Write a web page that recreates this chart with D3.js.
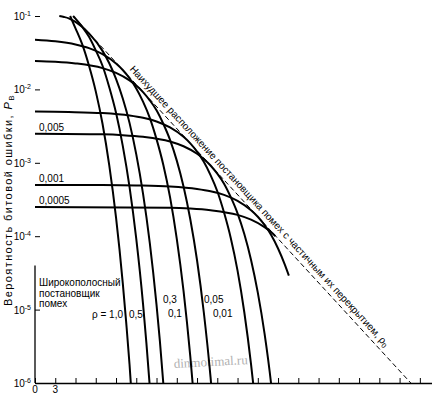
<!DOCTYPE html>
<html><head><meta charset="utf-8">
<script src="https://cdn.jsdelivr.net/npm/d3@7"></script>
<style>
body{margin:0;background:#fff}
svg{display:block;font-family:"Liberation Sans",Arial,sans-serif}
</style></head><body>
<svg id="c" width="432" height="395"></svg>
<script>
// ---- data (Eb/J0 in dB, bit error probability) ----
const rhoNames = ["1,0","0,5","0,3","0,1","0,05","0,01","0,005","0,001","0,0005"];
const curveRho1_0 = [[5.2,0.1],[6,0.068],[7,0.041],[8,0.021],[9,0.0094],[10,0.0034],[11,9.2e-4],[12,1.8e-4],[13,2.3e-5],[13.5,6.8e-6],[14,1.8e-6],[14.3,7e-7]];
const curveRho0_5 = [[5.64,0.1],[6,0.092],[7,0.071],[8,0.052],[9,0.034],[10,0.021],[11,0.0107],[12,4.8e-3],[13,1.7e-3],[14,4.7e-4],[15,9.2e-5],[16,1.2e-5],[16.5,3.5e-6],[17,9e-7]];
const curveRho0_3 = [[3.6,0.1],[4.3,0.097],[5,0.093],[6,0.083],[8,0.058],[10,0.0335],[11,0.0227],[12,0.0139],[13,7.5e-3],[14,3.5e-3],[15,1.3e-3],[16,3.8e-4],[17,8.1e-5],[18,1.16e-5],[18.5,3.7e-6],[19,1e-6],[19.3,4.3e-7]];
const curveRho0_1 = [[0,0.0476],[3,0.0453],[6,0.041],[8,0.0365],[10,0.0303],[12,0.0226],[13,0.0184],[14,0.0142],[15,0.0103],[16,6.8e-3],[17,4.1e-3],[18,2.1e-3],[19,9.4e-4],[20,3.4e-4],[21,9.2e-5],[22,1.8e-5],[23,2.3e-6],[23.5,6.8e-7]];
const curveRho0_05 = [[0,0.0244],[3,0.0238],[6,0.0226],[10,0.0195],[12,0.0168],[14,0.0133],[15,0.0113],[16,9.2e-3],[17,7.1e-3],[18,5.2e-3],[19,3.4e-3],[20,2.05e-3],[21,1.07e-3],[22,4.75e-4],[23,1.7e-4],[24,4.7e-5],[25,9.2e-6],[26,1.2e-6],[26.5,3.5e-7]];
const curveRho0_01 = [[0,4.98e-3],[5,4.92e-3],[10,4.76e-3],[14,4.41e-3],[16,4.1e-3],[18,3.65e-3],[20,3.03e-3],[22,2.26e-3],[23,1.84e-3],[24,1.42e-3],[25,1.03e-3],[26,6.8e-4],[27,4.1e-4],[28,2.1e-4],[29,9.4e-5],[30,3.4e-5],[31,9.2e-6],[32,1.8e-6],[32.5,6.9e-7]];
const curveRho0_005 = [[0,2.49e-3],[10,2.44e-3],[13,2.38e-3],[16,2.26e-3],[20,1.95e-3],[22,1.68e-3],[24,1.33e-3],[25,1.13e-3],[26,9.2e-4],[27,7.1e-4],[28,5.2e-4],[29,3.4e-4],[30,2.05e-4],[31,1.07e-4],[32,4.75e-5],[33,1.7e-5],[34,4.7e-6],[35,9.2e-7],[35.3,5e-7]];
const curveRho0_001 = [[0,5e-4],[10,4.98e-4],[15,4.92e-4],[20,4.76e-4],[24,4.41e-4],[26,4.1e-4],[28,3.65e-4],[30,3.03e-4],[32,2.26e-4],[33,1.84e-4],[34,1.42e-4],[35,1.03e-4],[36,6.8e-5],[37,4.1e-5],[37.6,2.9e-5]];
const curveRho0_0005 = [[0,2.5e-4],[20,2.44e-4],[23,2.38e-4],[26,2.26e-4],[30,1.95e-4],[32,1.68e-4],[34,1.33e-4],[35,1.13e-4],[35.6,1.0e-4]];
const worstCase = [[5.66,0.1],[55.66,1e-6]];
const yTickValues = [1e-1,1e-2,1e-3,1e-4,1e-5,1e-6];
const yTickExps = ["-1","-2","-3","-4","-5","-6"];
const xTickValues = [0,3,6,9,12,15,18,21,24,27,30,33,36,39,42,45,48,51,54,57];
const xTickLabels = ["0","3"];

const curves = [curveRho1_0,curveRho0_5,curveRho0_3,curveRho0_1,curveRho0_05,curveRho0_01,curveRho0_005,curveRho0_001,curveRho0_0005];

// ---- layout ----
const svg = d3.select("#c");
const x = d3.scaleLinear().domain([0,58.8]).range([35,432]);
const y = d3.scaleLog().domain([1e-6,1e-1]).range([383,16]);

svg.append("defs").append("clipPath").attr("id","pl")
  .append("rect").attr("x",35).attr("y",0).attr("width",400).attr("height",383);

// watermark
svg.append("text").attr("transform","translate(174,368) rotate(-3)")
  .attr("font-family","'Liberation Serif',serif").attr("font-size",13).attr("fill","#b0b0b0")
  .text("dinmotimal.ru");

// axes
const gx = svg.append("g").attr("transform","translate(0,383)")
  .call(d3.axisBottom(x).tickValues(xTickValues).tickSizeInner(-5).tickSizeOuter(0).tickFormat(""));
gx.select(".domain").attr("stroke","#000").attr("stroke-width",1.3);
gx.selectAll(".tick line").attr("stroke","#000").attr("stroke-width",1);
xTickLabels.forEach((t,i)=>{
  svg.append("text").attr("x",x(xTickValues[i])).attr("y",393).attr("text-anchor","middle")
    .attr("font-size",10).text(t);
});

const gy = svg.append("g").attr("transform","translate(35,0)")
  .call(d3.axisLeft(y).tickValues(yTickValues).tickSizeInner(-5).tickSizeOuter(0).tickFormat(""));
gy.select(".domain").remove();
gy.append("line").attr("x1",0).attr("x2",0).attr("y1",y(4e-5)).attr("y2",y(1e-6))
  .attr("stroke","#000").attr("stroke-width",1.3);
gy.selectAll(".tick line").attr("stroke","#000").attr("stroke-width",1);
yTickValues.forEach((v,i)=>{
  const t = svg.append("text").attr("x",31).attr("y",y(v)+4).attr("text-anchor","end").attr("font-size",10);
  t.append("tspan").text("10");
  t.append("tspan").attr("font-size",7).attr("dy",-4).text(yTickExps[i]);
});

// y label
const yl = svg.append("text").attr("transform","translate(12,200) rotate(-90)")
  .attr("text-anchor","middle").attr("font-size",11).attr("letter-spacing",1.4);
yl.append("tspan").text("Вероятность битовой ошибки, ");
yl.append("tspan").attr("font-style","italic").text("P");
yl.append("tspan").attr("font-size",8).attr("dy",2).text("B");

// curves
const line = d3.line().x(d=>x(d[0])).y(d=>y(d[1])).curve(d3.curveMonotoneX);
const gc = svg.append("g").attr("clip-path","url(#pl)");
curves.forEach(c=>{
  gc.append("path").attr("d",line(c)).attr("fill","none").attr("stroke","#000").attr("stroke-width",2);
});
gc.append("path").attr("d",d3.line().x(d=>x(d[0])).y(d=>y(d[1]))(worstCase))
  .attr("fill","none").attr("stroke","#000").attr("stroke-width",1).attr("stroke-dasharray","5,3");

// worst-case label along the dashed line
const p0 = [x(worstCase[0][0]), y(worstCase[0][1])], p1 = [x(worstCase[1][0]), y(worstCase[1][1])];
const ang = Math.atan2(p1[1]-p0[1], p1[0]-p0[0])*180/Math.PI;
const tt = 0.155;
const lp = [p0[0]+(p1[0]-p0[0])*tt, p0[1]+(p1[1]-p0[1])*tt];
const wl = svg.append("text").attr("transform",`translate(${lp[0]},${lp[1]}) rotate(${ang})`)
  .attr("y",-5).attr("font-size",10);
wl.append("tspan").text("Наихудшее расположение постановщика помех с частичным их перекрытием, ρ");
wl.append("tspan").attr("font-size",7).attr("dy",2).text("0");

// rho labels
const lab = (s,xx,yy)=>svg.append("text").attr("x",xx).attr("y",yy).attr("font-size",10).text(s);
lab("0,005",39,131);
lab("0,001",39,182);
lab("0,0005",39,204);
lab("Широкополосный",39,286);
lab("постановщик",39,297);
lab("помех",39,307);
lab("ρ = "+rhoNames[0],92,318);
lab(rhoNames[1],129,318);
lab(rhoNames[2],163,303);
lab(rhoNames[3],168,317);
lab(rhoNames[4],204,303);
lab(rhoNames[5],213,317);
</script>
</body></html>
